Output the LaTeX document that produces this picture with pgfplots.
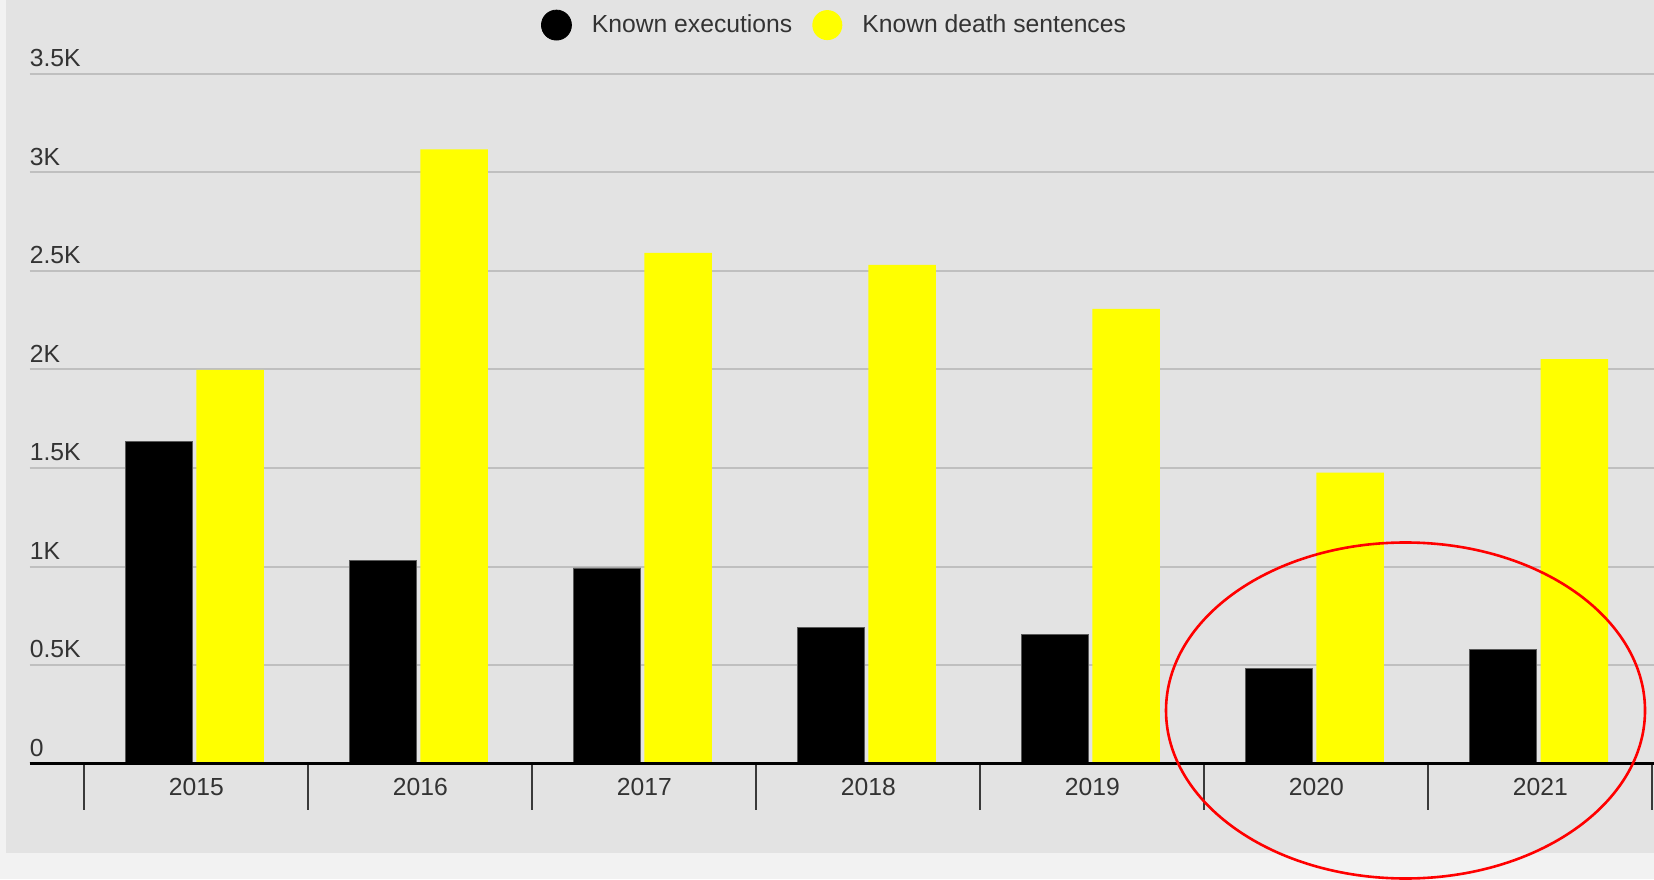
\documentclass[border=0pt]{standalone}
\usepackage{fontspec}
\setmainfont{Liberation Sans}
\usepackage{pgfplots}
\usepackage{pgfplotstable}
\pgfplotsset{compat=1.18}
\definecolor{panel}{HTML}{E3E3E3}
\definecolor{outerbg}{HTML}{F2F2F2}
\definecolor{gridc}{HTML}{BFBFBF}
\definecolor{txt}{HTML}{333333}
\definecolor{tickc}{HTML}{3A3A3A}
\definecolor{yel}{HTML}{FFFF00}
\newcommand{\chfont}{\fontsize{12.35pt}{14pt}\selectfont}
\pgfplotstableread{
x exec sent
0 1634 1998
1 1032 3117
2 993 2591
3 690 2531
4 657 2307
5 483 1477
6 579 2052
}\data
\begin{document}
\begin{tikzpicture}
\useasboundingbox (0,0) rectangle (827pt,439.5pt);
\fill[outerbg] (0,0) rectangle (827pt,439.5pt);
\fill[panel] (3pt,13pt) rectangle (827pt,439.5pt);
\begin{axis}[
 at={(14.75pt,57.65pt)}, anchor=south west,
 scale only axis, width=812.25pt, height=344.95pt,
 xmin=-0.745, xmax=6.507, ymin=0, ymax=3500,
 clip=false,
 axis x line*=bottom, axis y line*=left,
 x axis line style={-, black, line width=1.5pt},
 y axis line style={draw=none},
 xtick={0,1,2,3,4,5,6}, xticklabels={2015,2016,2017,2018,2019,2020,2021},
 minor xtick={-0.5,0.5,1.5,2.5,3.5,4.5,5.5,6.5},
 major tick length=0pt, minor tick length=23pt,
 tick align=outside,
 minor tick style={draw=tickc, line width=1pt},
 ytick={0,500,1000,1500,2000,2500,3000,3500},
 yticklabels={0,0.5K,1K,1.5K,2K,2.5K,3K,3.5K},
 ymajorgrids, major grid style={gridc, line width=1pt},
 /pgf/number format/assume math mode=true,
 ticklabel style={font=\chfont, text=txt},
 yticklabel style={anchor=south west, inner xsep=0pt},
 xticklabel style={yshift=-3.6pt},
 legend columns=2,
 legend style={at={(0.3149,1.0706)}, anchor=west, draw=none, fill=none,
   inner sep=0pt, outer sep=0pt, font=\chfont, text=txt,
   column sep=10pt, nodes={inner xsep=0pt}},
]
\addplot[ybar, bar width=33.75pt, bar shift=-18.7pt, fill=black, draw=black!65, line width=0.4pt,
  legend image code/.code={\fill[black] (7.5pt,0pt) circle (7.5pt);}]
  table[x=x,y=exec]{\data};
\addlegendentry{Known executions}
\addplot[ybar, bar width=33.75pt, bar shift=16.9pt, fill=yel, draw=none,
  legend image code/.code={\fill[yel] (7.5pt,0pt) circle (7.5pt);}]
  table[x=x,y=sent]{\data};
\addlegendentry{Known death sentences}
\draw[black, line width=1.5pt] (axis cs:-0.745,0) -- (axis cs:6.507,0);
\end{axis}
\draw[red, line width=1.3pt] (702.75pt,84.25pt) ellipse [x radius=119.75pt, y radius=84pt];
\end{tikzpicture}
\end{document}
